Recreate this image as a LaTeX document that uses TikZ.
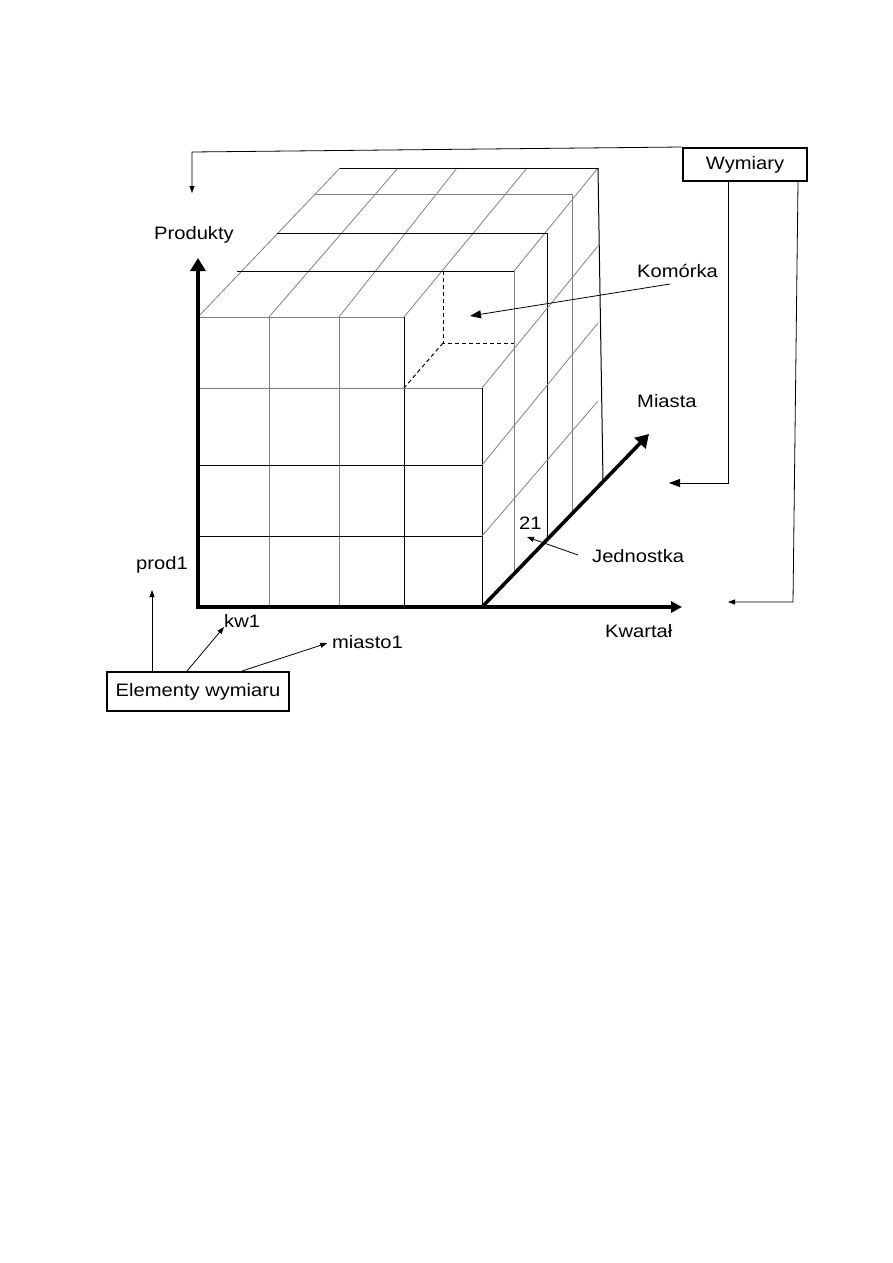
\documentclass[tikz,border=0pt]{standalone}
\usepackage{fontspec}
\setmainfont{Liberation Sans}[FakeStretch=1.12]
\usetikzlibrary{arrows.meta,calc}
\definecolor{gridgray}{gray}{0.5}
\newcommand\lbfont{\fontsize{18}{22}\selectfont}
\tikzset{
  gg/.style={draw=gridgray, line width=0.8pt},
  gk/.style={draw=black, line width=1pt},
  gd/.style={draw=black, line width=1pt, dash pattern=on 4pt off 3pt},
  axisline/.style={line width=3.6pt, -{Triangle[width=15pt,length=13pt]}},
  axisthin/.style={line width=3.6pt, -{Triangle[width=11pt,length=11pt]}},
  lbl/.style={inner sep=0pt, anchor=base west, font=\lbfont},
  dimbox/.style={draw, line width=2pt, inner sep=0pt, font=\lbfont},
  conn/.style={line width=0.8pt, -{Triangle[width=5pt,length=7pt]}},
  connbig/.style={line width=0.8pt, -{Triangle[width=8pt,length=11pt]}},
}
\begin{document}
\begin{tikzpicture}[x=1pt,y=-1pt]
\path[use as bounding box] (0,0) rectangle (893,1263);

% ---------- front face ----------
\draw[gg] (269,317) -- (269,607);
\draw[gg] (339,317) -- (339,607);
\draw[gk] (404,317) -- (404,607);
\draw[gk] (482,388) -- (482,607);
\draw[gg] (198,317) -- (404,317);
\draw[gg] (198,388) -- (482,388);
\draw[gk] (198,465) -- (482,465);
\draw[gk] (198,536) -- (482,536);

% ---------- top face ----------
\draw[gg] (198,317) -- (340,168);
\draw[gg] (269,317) -- (398,168);
\draw[gg] (339,317) -- (457,168);
\draw[gg] (404,317) -- (527,168);
\draw[gg] (514,271) -- (598,168);
\draw[gk] (237,271) -- (514,271);
\draw[gk] (277,233) -- (547,233);
\draw[gg] (315,194) -- (572,194);
\draw[gk] (340,168) -- (598,168);

% ---------- right face ----------
\draw[gg] (514,271) -- (514,573);
\draw[gk] (547,233) -- (547,539);
\draw[gg] (572,194) -- (572,513);
\draw[gk] (598,168) -- (603,481);
\draw[gg] (482,388) -- (598,246);
\draw[gg] (482,465) -- (598,323);
\draw[gg] (482,536) -- (598,401);

% ---------- cut-out cell ----------
\draw[gd] (443,271) -- (443,343) -- (514,343);
\draw[gd] (443,343) -- (404,388);

% ---------- axes ----------
\draw[axisline] (198,609) -- (198,258);
\draw[axisthin] (196,607) -- (682,607);
\draw[axisline] (482,607) -- (649,434);

% ---------- labels ----------
\node[lbl] (prodl) at (154,239) {Produkty};
\node[lbl] (kom) at (637,277) {Komórka};
\node[lbl] (mia) at (637,407) {Miasta};
\node[lbl] (jed) at (592,562) {Jednostka};
\node[lbl] (kwa) at (605,637) {Kwartał};
\node[lbl] (pr1) at (136,569) {prod1};
\node[lbl] (kw1) at (224,627) {kw1};
\node[lbl] (mi1) at (332,648) {miasto1};
\node[lbl] (n21) at (519,529) {21};

\node[dimbox, minimum width=124pt, minimum height=33pt] (wym) at (745,164.5) {Wymiary};
\node[dimbox, minimum width=182pt, minimum height=39pt] (el) at (198,691.5) {Elementy wymiaru};

% ---------- connectors ----------
\coordinate (c1) at (192,152);
\coordinate (t1) at (192,193);
\draw[conn] (wym.north west) -- (c1) -- (t1);

\coordinate (m1) at (728,483);
\coordinate (t2) at (669,483);
\draw[connbig] (wym.south -| m1) -- (m1) -- (t2);

\coordinate (m2) at (793,602);
\coordinate (t3) at (728,602);
\draw[conn] (wym.south -| 798,0) -- (m2) -- (t3);

\coordinate (t4) at (152,590);
\draw[conn] (el.north -| t4) -- (t4);
\draw[conn] (el.north -| 187,0) -- (kw1.base west);
\draw[conn, shorten >=5pt] (el.north -| 242,0) -- (mi1.west);

\coordinate (k1) at (670,284);
\coordinate (k2) at (470,316);
\draw[connbig] (k1) -- (k2);

\coordinate (j1) at (578,555);
\coordinate (j2) at (527,537);
\draw[conn] (j1) -- (j2);
\end{tikzpicture}
\end{document}
